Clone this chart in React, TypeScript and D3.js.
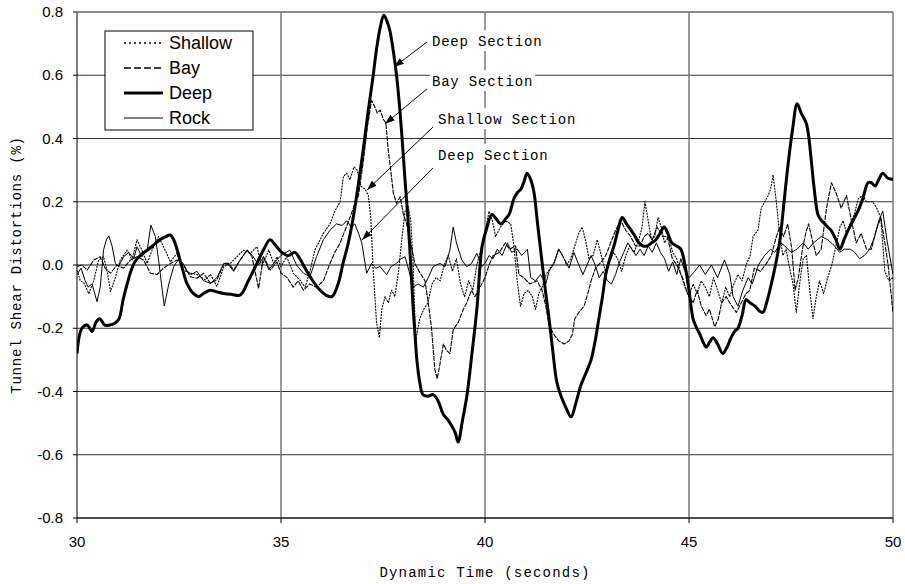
import React from "react";
import * as d3 from "d3";

// time (s), shear distortion (%)
const deepData: [number, number][] = [
  [30.0,-0.28],[30.12,-0.2],[30.25,-0.19],[30.37,-0.21],[30.47,-0.18],[30.56,-0.17],[30.68,-0.19],[30.8,-0.19],
  [30.92,-0.185],[31.03,-0.17],[31.13,-0.11],[31.23,-0.06],[31.32,-0.02],[31.42,0.01],[31.55,0.03],[31.7,0.045],
  [31.85,0.06],[32.03,0.08],[32.18,0.09],[32.28,0.095],[32.37,0.08],[32.45,0.05],[32.58,-0.01],[32.7,-0.06],
  [32.85,-0.09],[32.99,-0.1],[33.1,-0.09],[33.26,-0.08],[33.43,-0.085],[33.6,-0.09],[33.8,-0.093],[34.0,-0.095],
  [34.2,-0.05],[34.41,0.005],[34.58,0.05],[34.73,0.08],[34.88,0.06],[35.02,0.04],[35.18,0.03],[35.34,0.04],
  [35.46,0.02],[35.59,-0.01],[35.78,-0.05],[35.96,-0.08],[36.1,-0.095],[36.25,-0.1],[36.4,-0.06],[36.52,0.005],
  [36.65,0.07],[36.77,0.15],[36.89,0.25],[37.01,0.36],[37.13,0.48],[37.25,0.59],[37.35,0.69],[37.43,0.75],
  [37.52,0.79],[37.6,0.77],[37.67,0.74],[37.76,0.67],[37.84,0.59],[37.92,0.48],[37.99,0.36],[38.05,0.25],
  [38.11,0.15],[38.18,0.0],[38.24,-0.14],[38.29,-0.23],[38.33,-0.3],[38.4,-0.37],[38.48,-0.41],[38.6,-0.415],
  [38.73,-0.41],[38.85,-0.43],[38.97,-0.47],[39.09,-0.49],[39.19,-0.51],[39.27,-0.53],[39.34,-0.56],[39.45,-0.49],
  [39.56,-0.41],[39.68,-0.28],[39.8,-0.14],[39.93,0.06],[40.05,0.12],[40.17,0.16],[40.28,0.145],[40.39,0.13],
  [40.5,0.145],[40.59,0.16],[40.71,0.21],[40.8,0.23],[40.88,0.24],[40.96,0.265],[41.03,0.29],[41.12,0.27],
  [41.2,0.23],[41.28,0.14],[41.37,0.04],[41.47,-0.07],[41.57,-0.17],[41.66,-0.27],[41.76,-0.37],[41.88,-0.42],
  [41.98,-0.45],[42.11,-0.48],[42.22,-0.44],[42.35,-0.38],[42.48,-0.34],[42.6,-0.3],[42.7,-0.24],[42.79,-0.17],
  [42.88,-0.1],[42.96,-0.03],[43.06,0.02],[43.16,0.06],[43.26,0.11],[43.36,0.15],[43.47,0.13],[43.58,0.11],
  [43.68,0.09],[43.77,0.07],[43.87,0.06],[43.97,0.06],[44.08,0.07],[44.19,0.08],[44.29,0.1],[44.39,0.12],
  [44.48,0.1],[44.58,0.07],[44.7,0.06],[44.8,0.05],[44.9,0.0],[45.0,-0.08],[45.1,-0.17],[45.19,-0.2],
  [45.27,-0.22],[45.35,-0.245],[45.42,-0.26],[45.5,-0.245],[45.59,-0.23],[45.7,-0.25],[45.83,-0.28],[45.93,-0.26],
  [46.03,-0.23],[46.12,-0.21],[46.2,-0.2],[46.3,-0.16],[46.4,-0.11],[46.5,-0.12],[46.62,-0.13],[46.72,-0.145],
  [46.81,-0.15],[46.9,-0.12],[47.0,-0.07],[47.12,0.0],[47.23,0.08],[47.33,0.2],[47.43,0.32],[47.54,0.43],
  [47.65,0.51],[47.75,0.48],[47.87,0.45],[47.93,0.41],[47.99,0.34],[48.07,0.24],[48.16,0.16],[48.25,0.14],
  [48.33,0.13],[48.4,0.12],[48.48,0.11],[48.6,0.08],[48.7,0.05],[48.8,0.08],[48.9,0.11],[49.02,0.14],
  [49.14,0.17],[49.26,0.21],[49.39,0.26],[49.47,0.26],[49.56,0.25],[49.65,0.27],[49.75,0.29],[49.87,0.275],[50.0,0.27],
];

const rockData: [number, number][] = [
  [30.0,-0.03],[30.1,-0.01],[30.2,-0.05],[30.27,-0.07],[30.37,-0.06],[30.49,-0.116],[30.57,-0.07],[30.65,0.047],
  [30.72,0.08],[30.78,0.092],[30.86,0.06],[30.94,0.005],[31.02,-0.005],[31.14,0.026],[31.27,0.04],[31.39,0.02],
  [31.47,0.058],[31.59,0.026],[31.72,0.047],[31.81,0.126],[31.92,0.09],[32.0,0.016],[32.07,-0.06],[32.14,-0.13],
  [32.25,-0.06],[32.37,-0.005],[32.5,0.02],[32.6,0.005],[32.7,-0.02],[32.8,-0.03],[32.94,-0.02],[33.1,-0.05],
  [33.27,-0.058],[33.43,-0.04],[33.6,0.005],[33.72,0.0],[33.84,-0.02],[34.0,0.016],[34.17,0.047],[34.3,0.03],
  [34.45,0.0],[34.57,0.026],[34.7,-0.015],[34.85,0.01],[35.0,0.03],[35.22,0.047],[35.38,0.0],[35.55,-0.026],
  [35.71,-0.037],[35.87,0.026],[36.04,0.08],[36.2,0.11],[36.36,0.13],[36.5,0.125],[36.61,0.14],[36.72,0.12],
  [36.81,0.13],[36.9,0.1],[36.98,0.07],[37.1,-0.026],[37.22,0.005],[37.32,-0.01],[37.43,-0.005],[37.52,-0.02],
  [37.59,-0.03],[37.7,-0.005],[37.83,0.005],[37.94,0.02],[38.04,0.026],[38.14,-0.02],[38.24,-0.07],[38.36,-0.06],
  [38.49,-0.07],[38.61,-0.04],[38.73,-0.005],[38.9,0.005],[39.02,-0.005],[39.14,0.047],[39.22,0.12],[39.3,0.07],
  [39.43,0.016],[39.55,-0.005],[39.67,0.005],[39.8,0.037],[39.92,-0.005],[40.0,0.005],[40.1,0.03],[40.2,0.02],
  [40.3,0.05],[40.42,0.03],[40.55,0.07],[40.65,0.04],[40.79,0.05],[40.9,0.03],[41.04,0.05],[41.12,-0.04],
  [41.24,-0.05],[41.36,-0.03],[41.49,-0.06],[41.57,-0.02],[41.69,0.005],[41.81,0.05],[41.94,0.02],[42.06,-0.01],
  [42.18,0.04],[42.3,0.0],[42.4,-0.03],[42.5,0.0],[42.6,0.03],[42.7,0.0],[42.8,-0.04],[42.9,-0.02],
  [43.0,-0.05],[43.1,-0.06],[43.2,-0.03],[43.3,0.01],[43.4,0.04],[43.5,0.07],[43.6,0.05],[43.7,0.03],
  [43.8,0.05],[43.9,0.03],[44.0,0.06],[44.1,0.04],[44.2,0.07],[44.3,0.04],[44.4,0.02],[44.5,-0.02],
  [44.6,0.01],[44.7,-0.03],[44.8,0.02],[44.9,-0.02],[45.0,-0.04],[45.14,-0.02],[45.26,0.0],[45.4,-0.03],
  [45.55,0.0],[45.7,-0.04],[45.87,0.016],[46.0,-0.03],[46.08,-0.1],[46.2,-0.13],[46.32,-0.08],[46.45,-0.04],
  [46.55,-0.06],[46.7,0.0],[46.85,0.03],[47.0,0.05],[47.1,0.04],[47.25,0.07],[47.35,0.06],[47.5,0.04],
  [47.65,0.05],[47.8,0.07],[47.92,0.05],[48.05,0.07],[48.24,0.09],[48.4,0.08],[48.57,0.06],[48.69,0.04],
  [48.81,0.05],[48.95,0.05],[49.06,0.04],[49.18,0.02],[49.3,0.03],[49.43,0.05],[49.55,0.09],[49.65,0.14],
  [49.75,0.17],[49.85,0.08],[50.0,-0.03],
];

const shallowData: [number, number][] = [
  [30.0,-0.016],[30.08,-0.05],[30.16,-0.055],[30.29,-0.09],[30.41,-0.05],[30.53,0.016],[30.65,0.026],[30.74,-0.02],
  [30.82,-0.084],[30.94,-0.04],[31.06,0.016],[31.23,0.047],[31.35,0.016],[31.47,0.08],[31.59,0.047],[31.72,0.005],
  [31.84,0.047],[32.0,0.09],[32.12,0.058],[32.29,0.01],[32.45,0.037],[32.6,-0.016],[32.78,-0.026],[32.94,-0.03],
  [33.15,-0.047],[33.27,-0.03],[33.43,-0.068],[33.6,-0.005],[33.76,0.005],[33.92,0.026],[34.08,0.047],[34.25,0.037],
  [34.41,0.058],[34.53,-0.005],[34.7,0.047],[34.82,0.005],[34.9,0.026],[35.0,-0.005],[35.14,0.026],[35.3,-0.026],
  [35.46,-0.047],[35.59,-0.07],[35.71,-0.02],[35.83,0.047],[35.96,0.08],[36.04,0.1],[36.2,0.13],[36.32,0.17],
  [36.45,0.2],[36.53,0.28],[36.61,0.29],[36.69,0.27],[36.79,0.31],[36.87,0.3],[36.95,0.25],[37.06,0.24],
  [37.14,0.22],[37.2,0.15],[37.26,-0.016],[37.34,-0.18],[37.41,-0.23],[37.47,-0.14],[37.55,-0.1],[37.63,-0.12],
  [37.71,-0.08],[37.79,-0.1],[37.88,-0.02],[37.96,0.08],[38.04,0.17],[38.12,0.185],[38.18,0.14],[38.24,0.0],
  [38.3,-0.24],[38.4,-0.17],[38.5,-0.14],[38.6,-0.12],[38.7,-0.06],[38.8,-0.04],[38.9,-0.05],[39.0,0.0],
  [39.1,0.03],[39.2,-0.02],[39.3,0.02],[39.4,-0.06],[39.5,-0.1],[39.6,-0.05],[39.7,-0.08],[39.8,0.0],
  [39.9,0.05],[40.0,0.1],[40.1,0.17],[40.18,0.14],[40.26,0.09],[40.38,0.12],[40.5,0.14],[40.63,0.13],
  [40.71,0.06],[40.79,-0.05],[40.87,-0.13],[40.96,-0.09],[41.06,-0.08],[41.16,-0.1],[41.24,-0.14],[41.32,-0.09],
  [41.4,-0.07],[41.5,-0.03],[41.6,-0.01],[41.7,0.01],[41.8,0.05],[41.9,0.03],[42.0,0.0],[42.1,0.02],
  [42.2,0.06],[42.3,0.1],[42.38,0.12],[42.46,0.08],[42.55,0.02],[42.65,0.03],[42.75,0.08],[42.85,0.03],
  [42.95,-0.02],[43.05,0.01],[43.15,0.04],[43.25,0.02],[43.35,-0.02],[43.45,0.03],[43.55,0.06],[43.65,0.04],
  [43.75,0.07],[43.85,0.12],[43.92,0.2],[44.0,0.14],[44.08,0.08],[44.16,0.09],[44.24,0.15],[44.32,0.12],
  [44.4,0.07],[44.5,0.09],[44.6,0.04],[44.7,0.02],[44.8,-0.03],[44.9,-0.07],[45.0,-0.1],[45.1,-0.06],
  [45.2,-0.09],[45.3,-0.05],[45.4,-0.07],[45.5,-0.1],[45.6,-0.04],[45.7,-0.08],[45.8,-0.12],[45.9,-0.07],
  [46.0,-0.1],[46.1,-0.06],[46.2,-0.03],[46.3,-0.05],[46.4,0.0],[46.5,0.03],[46.57,0.09],[46.69,0.11],
  [46.77,0.18],[46.86,0.2],[46.94,0.22],[47.0,0.24],[47.06,0.285],[47.14,0.2],[47.22,0.1],[47.3,0.03],
  [47.38,0.05],[47.45,0.0],[47.55,-0.06],[47.63,-0.15],[47.72,-0.05],[47.8,0.02],[47.88,0.03],[47.96,-0.08],
  [48.04,-0.17],[48.12,-0.1],[48.2,-0.05],[48.3,-0.09],[48.4,-0.04],[48.5,0.0],[48.6,0.06],[48.7,0.12],
  [48.78,0.14],[48.86,0.1],[48.95,0.13],[49.05,0.16],[49.15,0.21],[49.25,0.22],[49.35,0.2],[49.5,0.2],
  [49.6,0.18],[49.7,0.15],[49.8,-0.02],[49.9,-0.05],[50.0,-0.04],
];

const bayData: [number, number][] = [
  [30.0,-0.005],[30.12,0.0],[30.25,-0.016],[30.41,0.016],[30.57,0.026],[30.69,-0.01],[30.82,-0.026],[30.98,0.0],
  [31.14,-0.01],[31.31,0.016],[31.47,0.026],[31.63,0.016],[31.8,-0.026],[31.96,-0.03],[32.12,-0.01],[32.29,0.005],
  [32.45,0.016],[32.61,0.0],[32.78,-0.037],[32.94,-0.042],[33.1,-0.026],[33.27,-0.058],[33.43,-0.047],[33.6,0.005],
  [33.72,0.005],[33.84,-0.016],[34.0,0.016],[34.17,0.047],[34.29,0.026],[34.45,-0.074],[34.57,0.026],[34.74,-0.016],
  [34.9,0.01],[35.0,-0.026],[35.15,-0.04],[35.3,-0.07],[35.42,-0.05],[35.55,-0.08],[35.7,-0.06],[35.87,-0.07],
  [36.04,-0.05],[36.2,0.005],[36.32,0.04],[36.45,0.07],[36.57,0.11],[36.69,0.15],[36.8,0.19],[36.9,0.22],
  [37.02,0.33],[37.12,0.44],[37.22,0.52],[37.3,0.5],[37.36,0.48],[37.43,0.49],[37.51,0.46],[37.57,0.45],
  [37.63,0.36],[37.69,0.3],[37.75,0.23],[37.83,0.195],[37.92,0.216],[38.0,0.16],[38.08,0.13],[38.18,0.07],
  [38.28,0.005],[38.41,-0.026],[38.53,-0.05],[38.61,-0.12],[38.69,-0.2],[38.77,-0.33],[38.83,-0.36],[38.9,-0.31],
  [38.98,-0.25],[39.06,-0.27],[39.14,-0.28],[39.22,-0.205],[39.35,-0.18],[39.47,-0.14],[39.55,-0.12],[39.67,-0.08],
  [39.75,-0.1],[39.88,-0.07],[40.0,-0.04],[40.1,0.0],[40.2,0.03],[40.35,0.04],[40.5,0.07],[40.6,0.05],
  [40.75,0.06],[40.83,-0.03],[40.95,-0.04],[41.1,-0.06],[41.28,-0.05],[41.4,-0.08],[41.49,-0.13],[41.57,-0.19],
  [41.69,-0.22],[41.81,-0.24],[41.94,-0.25],[42.06,-0.24],[42.14,-0.22],[42.2,-0.17],[42.3,-0.15],[42.43,-0.13],
  [42.52,-0.09],[42.6,-0.05],[42.71,-0.01],[42.85,0.01],[42.96,0.03],[43.08,0.07],[43.2,0.11],[43.33,0.14],
  [43.45,0.11],[43.57,0.09],[43.69,0.06],[43.8,0.06],[43.9,0.09],[44.0,0.1],[44.1,0.08],[44.22,0.12],
  [44.35,0.09],[44.47,0.09],[44.59,0.02],[44.7,0.0],[44.84,-0.04],[44.96,-0.09],[45.1,-0.12],[45.2,-0.08],
  [45.3,-0.13],[45.42,-0.16],[45.5,-0.14],[45.63,-0.195],[45.72,-0.17],[45.8,-0.12],[45.91,-0.1],[46.0,-0.12],
  [46.16,-0.15],[46.28,-0.12],[46.4,-0.09],[46.49,-0.08],[46.6,-0.01],[46.75,-0.02],[46.9,0.005],[47.02,0.03],
  [47.12,0.08],[47.22,0.12],[47.32,0.09],[47.42,0.13],[47.52,0.05],[47.6,-0.08],[47.68,-0.04],[47.78,0.05],
  [47.86,0.1],[47.93,0.13],[48.02,0.08],[48.12,0.03],[48.24,0.05],[48.37,0.18],[48.49,0.26],[48.6,0.23],
  [48.73,0.18],[48.86,0.22],[48.98,0.14],[49.1,0.07],[49.22,0.1],[49.35,0.05],[49.47,0.05],[49.59,0.11],
  [49.7,0.15],[49.8,0.07],[49.88,0.0],[50.0,-0.15],
];

const xTicks = [30, 35, 40, 45, 50];
const yTicks = [-0.8, -0.6, -0.4, -0.2, 0, 0.2, 0.4, 0.6, 0.8];
const legendNames = ["Shallow", "Bay", "Deep", "Rock"];

// callouts: label position and arrow (from -> tip), in data units
const callouts = [
  { label: "Deep Section", at: [38.7, 0.6925], from: [38.578, 0.705], to: [37.77, 0.626] },
  { label: "Bay Section", at: [38.7, 0.566], from: [38.578, 0.557], to: [37.549, 0.446] },
  { label: "Shallow Section", at: [38.85, 0.446], from: [38.725, 0.436], to: [37.108, 0.237] },
  { label: "Deep Section", at: [38.85, 0.332], from: [38.725, 0.307], to: [36.985, 0.079] },
];

const styles: Record<string, { w: number; dash?: string; color: string }> = {
  Shallow: { w: 1.1, dash: "2,1", color: "#000" },
  Bay: { w: 1.1, dash: "5,1", color: "#000" },
  Deep: { w: 3, color: "#000" },
  Rock: { w: 1, color: "#000" },
};

export default function App() {
  const width = 905;
  const height = 584;
  const m = { left: 77, right: 893, top: 12, bottom: 518 };

  const x = d3.scaleLinear().domain([30, 50]).range([m.left, m.right]);
  const y = d3.scaleLinear().domain([-0.8, 0.8]).range([m.bottom, m.top]);

  const thin = d3
    .line<[number, number]>()
    .x(d => x(d[0]))
    .y(d => y(d[1]));
  const smooth = d3
    .line<[number, number]>()
    .x(d => x(d[0]))
    .y(d => y(d[1]))
    .curve(d3.curveCatmullRom.alpha(0.5));

  const series = [
    { name: "Rock", data: rockData, gen: thin },
    { name: "Bay", data: bayData, gen: thin },
    { name: "Shallow", data: shallowData, gen: thin },
    { name: "Deep", data: deepData, gen: smooth },
  ];

  const tickFont = "'Liberation Sans', Arial, sans-serif";
  const monoFont = "'Liberation Mono', 'Courier New', monospace";

  return (
    <svg
      width={width}
      height={height}
      style={{ position: "absolute", left: 0, top: 0, background: "#fff" }}
    >
      <defs>
        <clipPath id="plot">
          <rect x={m.left} y={m.top} width={m.right - m.left} height={m.bottom - m.top} />
        </clipPath>
        <marker
          id="arrow"
          viewBox="0 0 10 7"
          refX={10}
          refY={3.5}
          markerWidth={10}
          markerHeight={7}
          markerUnits="userSpaceOnUse"
          orient="auto"
        >
          <path d="M0,0 L10,3.5 L0,7 z" fill="#000" />
        </marker>
      </defs>

      {/* horizontal grid */}
      {yTicks.map(t => (
        <line
          key={"h" + t}
          x1={m.left}
          x2={m.right}
          y1={y(t)}
          y2={y(t)}
          stroke={t === 0 ? "#8a8a8a" : "#333"}
          strokeWidth={t === 0 ? 2 : 1}
        />
      ))}
      {/* vertical grid */}
      {xTicks.map(t => (
        <line
          key={"v" + t}
          x1={x(t)}
          x2={x(t)}
          y1={m.top}
          y2={m.bottom}
          stroke={t === 30 ? "#000" : "#777"}
          strokeWidth={t === 30 ? 1 : 1.5}
        />
      ))}
      <line x1={m.left} x2={m.right} y1={m.top} y2={m.top} stroke="#888" strokeWidth={1.5} />
      <line x1={m.left} x2={m.right} y1={m.bottom} y2={m.bottom} stroke="#000" strokeWidth={1} />

      {/* tick marks and labels */}
      {yTicks.map(t => (
        <g key={"yl" + t}>
          <line x1={m.left - 4} x2={m.left} y1={y(t)} y2={y(t)} stroke="#000" />
          <text
            x={m.left - 14}
            y={y(t) + 5}
            textAnchor="end"
            fontFamily={tickFont}
            fontSize={15}
          >
            {t.toFixed(1)}
          </text>
        </g>
      ))}
      {xTicks.map(t => (
        <g key={"xl" + t}>
          <line x1={x(t)} x2={x(t)} y1={m.bottom} y2={m.bottom + 5} stroke="#000" />
          <text x={x(t)} y={m.bottom + 29} textAnchor="middle" fontFamily={tickFont} fontSize={15}>
            {t}
          </text>
        </g>
      ))}

      {/* series */}
      <g clipPath="url(#plot)">
        {series.map(s => (
          <path
            key={s.name}
            d={s.gen(s.data) || ""}
            fill="none"
            stroke={styles[s.name].color}
            strokeWidth={styles[s.name].w}
            strokeDasharray={styles[s.name].dash}
            strokeLinejoin="round"
          />
        ))}
      </g>

      {/* callouts */}
      {callouts.map((c, i) => (
        <g key={"c" + i}>
          <rect
            x={x(c.at[0]) - 2}
            y={y(c.at[1]) - 16}
            width={c.label.length * 9.2 + 4}
            height={21}
            fill="#fff"
          />
          <text
            x={x(c.at[0])}
            y={y(c.at[1])}
            fontFamily={monoFont}
            fontSize={14}
            letterSpacing={0.8}
            fill="#000"
          >
            {c.label}
          </text>
        </g>
      ))}
      {callouts.map((c, i) => (
        <line
          key={"a" + i}
          x1={x(c.from[0])}
          y1={y(c.from[1])}
          x2={x(c.to[0])}
          y2={y(c.to[1])}
          stroke="#000"
          strokeWidth={1}
          markerEnd="url(#arrow)"
        />
      ))}

      {/* legend */}
      <g>
        <rect x={105} y={31} width={148} height={99} fill="#fff" stroke="#000" strokeWidth={1} />
        {legendNames.map((n, i) => {
          const ly = 43 + i * 25;
          return (
            <g key={"lg" + n}>
              <line
                x1={124}
                x2={163}
                y1={ly}
                y2={ly}
                stroke="#000"
                strokeWidth={n === "Deep" ? 3 : n === "Rock" ? 1 : 1.5}
                strokeDasharray={n === "Shallow" ? "2,3" : n === "Bay" ? "7,3" : undefined}
              />
              <text x={169} y={ly + 6} fontFamily={tickFont} fontSize={18}>
                {n}
              </text>
            </g>
          );
        })}
      </g>

      {/* axis titles */}
      <text
        transform={`translate(21,${(m.top + m.bottom) / 2}) rotate(-90)`}
        textAnchor="middle"
        fontFamily={monoFont}
        fontSize={14}
        letterSpacing={0.8}
      >
        Tunnel Shear Distortions (%)
      </text>
      <text
        x={(m.left + m.right) / 2}
        y={577}
        textAnchor="middle"
        fontFamily={monoFont}
        fontSize={14}
        letterSpacing={1.2}
      >
        Dynamic Time (seconds)
      </text>
    </svg>
  );
}
